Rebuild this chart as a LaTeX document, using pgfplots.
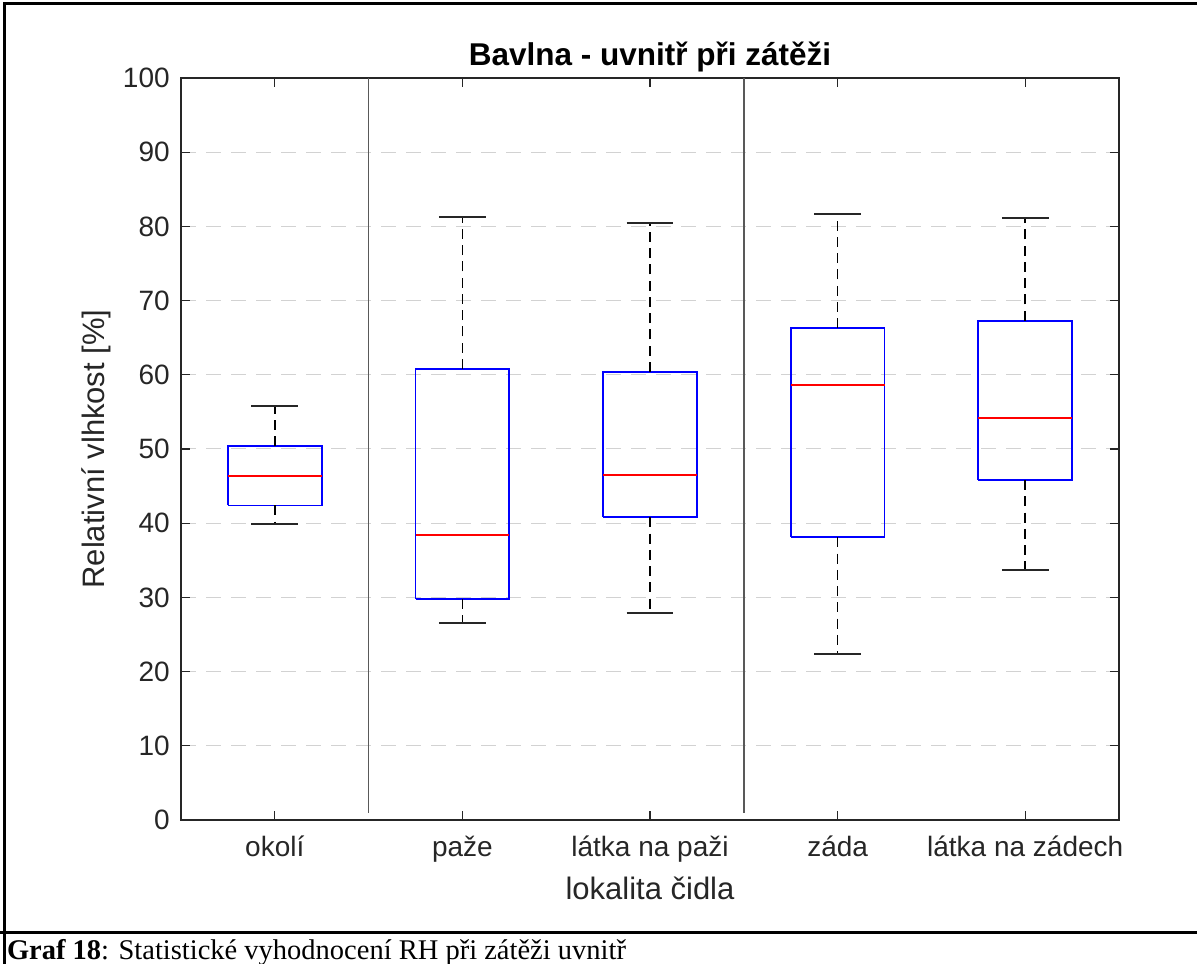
\documentclass[border=0pt]{standalone}
\usepackage{pgfplots}
\pgfplotsset{compat=1.18}
\usepackage{fontspec}
\setmainfont{Liberation Sans}
\newfontfamily\serifcap{Liberation Serif}
\definecolor{axgray}{rgb}{0.15,0.15,0.15}
\definecolor{sepgray}{rgb}{0.35,0.35,0.35}

% \mybox{pos}{lower whisker}{lower quartile}{median}{upper quartile}{upper whisker}
\newcommand{\mybox}[6]{%
  \addplot[blue, line width=0.7pt, no marks] coordinates {(#1-0.25,#3) (#1+0.25,#3) (#1+0.25,#5) (#1-0.25,#5) (#1-0.25,#3)};
  \addplot[red, line width=0.7pt, no marks] coordinates {(#1-0.25,#4) (#1+0.25,#4)};
  \addplot[black, line width=0.7pt, dash pattern=on 4pt off 2.5pt, no marks] coordinates {(#1,#3) (#1,#2)};
  \addplot[black, line width=0.7pt, dash pattern=on 4pt off 2.5pt, no marks] coordinates {(#1,#5) (#1,#6)};
  \addplot[black!85, line width=0.7pt, no marks] coordinates {(#1-0.125,#2) (#1+0.125,#2)};
  \addplot[black!85, line width=0.7pt, no marks] coordinates {(#1-0.125,#6) (#1+0.125,#6)};
}

\begin{document}
\begin{tikzpicture}
\begin{axis}[
  at={(72.4pt,57.2pt)}, anchor=south west,
  scale only axis, width=375.2pt, height=296.8pt,
  xmin=0.5, xmax=5.5, ymin=0, ymax=100,
  xtick={1,2,3,4,5},
  xticklabels={okolí, paže, látka na paži, záda, látka na zádech},
  ytick={0,10,...,100},
  tick align=inside, major tick length=3.6pt,
  axis line style={axgray, line width=0.5pt},
  tick style={axgray, line width=0.5pt},
  ymajorgrids, grid style={gray!35, dash pattern=on 6pt off 4pt, line width=0.4pt},
  /pgf/number format/assume math mode=true,
  ticklabel style={font=\fontsize{11.2}{13}\selectfont, text=axgray},
  xticklabel style={yshift=-3pt},
  yticklabel style={xshift=-1pt},
  title={Bavlna - uvnitř při zátěži},
  title style={font=\bfseries\fontsize{12.6}{14}\selectfont, yshift=-7pt},
  xlabel={lokalita čidla},
  ylabel={Relativní vlhkost [\%]},
  label style={font=\fontsize{12.4}{14}\selectfont, text=axgray},
  xlabel style={yshift=1pt},
  ylabel style={yshift=-2pt},
]
\addplot[sepgray, line width=0.6pt, no marks] coordinates {(1.5,1) (1.5,100)};
\addplot[sepgray, line width=0.6pt, no marks] coordinates {(3.5,1) (3.5,100)};
\mybox{1}{39.9}{42.4}{46.4}{50.4}{55.8}
\mybox{2}{26.5}{29.8}{38.4}{60.8}{81.3}
\mybox{3}{27.9}{40.8}{46.5}{60.4}{80.5}
\mybox{4}{22.4}{38.1}{58.6}{66.3}{81.7}
\mybox{5}{33.7}{45.8}{54.2}{67.3}{81.1}
\end{axis}
% frame
\draw[black, line width=1.2pt] (1.6pt,-2pt) -- (1.6pt,383.6pt) -- (490pt,383.6pt);
\draw[black, line width=1.2pt] (0pt,12pt) -- (490pt,12pt);
\node[anchor=base west, inner sep=0pt, font=\serifcap\fontsize{11.4}{13}\selectfont] at (2.6pt,1.2pt)
  {\textbf{Graf 18}: Statistické vyhodnocení RH při zátěži uvnitř};
\pgfresetboundingbox
\useasboundingbox (0pt,0pt) rectangle (478.8pt,385.2pt);
\end{tikzpicture}
\end{document}
